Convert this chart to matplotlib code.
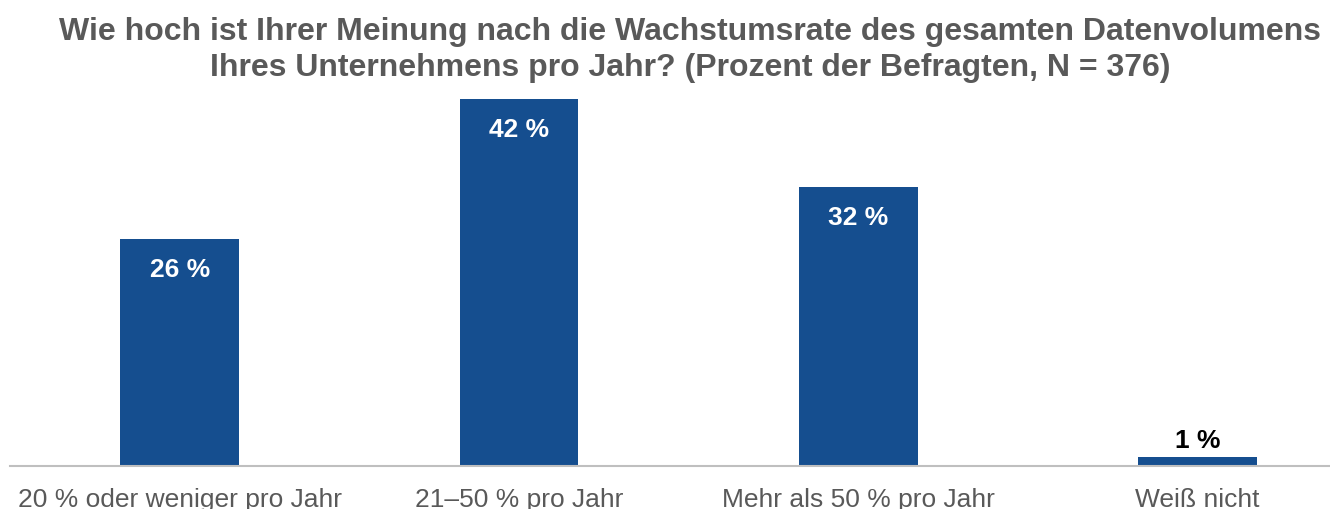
import matplotlib
matplotlib.use("Agg")
import matplotlib.pyplot as plt

categories = ["20 % oder weniger pro Jahr", "21–50 % pro Jahr", "Mehr als 50 % pro Jahr", "Weiß nicht"]
values = [26, 42, 32, 1]
value_labels = ["26 %", "42 %", "32 %", "1 %"]
title = ("Wie hoch ist Ihrer Meinung nach die Wachstumsrate des gesamten Datenvolumens\n"
         "Ihres Unternehmens pro Jahr? (Prozent der Befragten, N = 376)")

plt.rcParams['font.family'] = ['Liberation Sans', 'DejaVu Sans']

W, H = 1330, 510
fig = plt.figure(figsize=(W / 100, H / 100), dpi=100)
ax = fig.add_axes([10 / W, (H - 467) / H, 1320 / W, 377 / H])

bar_color = "#154E8F"
x = list(range(len(categories)))
ax.bar(x, values, width=0.35, color=bar_color, zorder=2)
ax.set_xlim(-0.5, 3.39)
ax.set_ylim(0, 377 / 8.73)

for xi, v, lab in zip(x, values, value_labels):
    if v >= 5:
        ax.annotate(lab, (xi, v), xytext=(0, -30), textcoords="offset pixels",
                    ha="center", va="center", color="white", fontsize=19, fontweight="bold")
    else:
        ax.annotate(lab, (xi, v), xytext=(0, 17), textcoords="offset pixels",
                    ha="center", va="center", color="black", fontsize=19, fontweight="bold")

for s in ["top", "right", "left"]:
    ax.spines[s].set_visible(False)
ax.spines["bottom"].set_color("#BFBFBF")
ax.spines["bottom"].set_linewidth(1.5)
ax.set_yticks([])
ax.set_xticks(x)
ax.set_xticklabels(categories, fontsize=19, color="#595959")
ax.tick_params(axis="x", length=0, pad=15)

fig.text(690 / W, 1 - 50 / H, title, ha="center", va="center", fontsize=23,
         fontweight="bold", color="#595959", linespacing=1.25)

fig.savefig("out.png", dpi=100)
